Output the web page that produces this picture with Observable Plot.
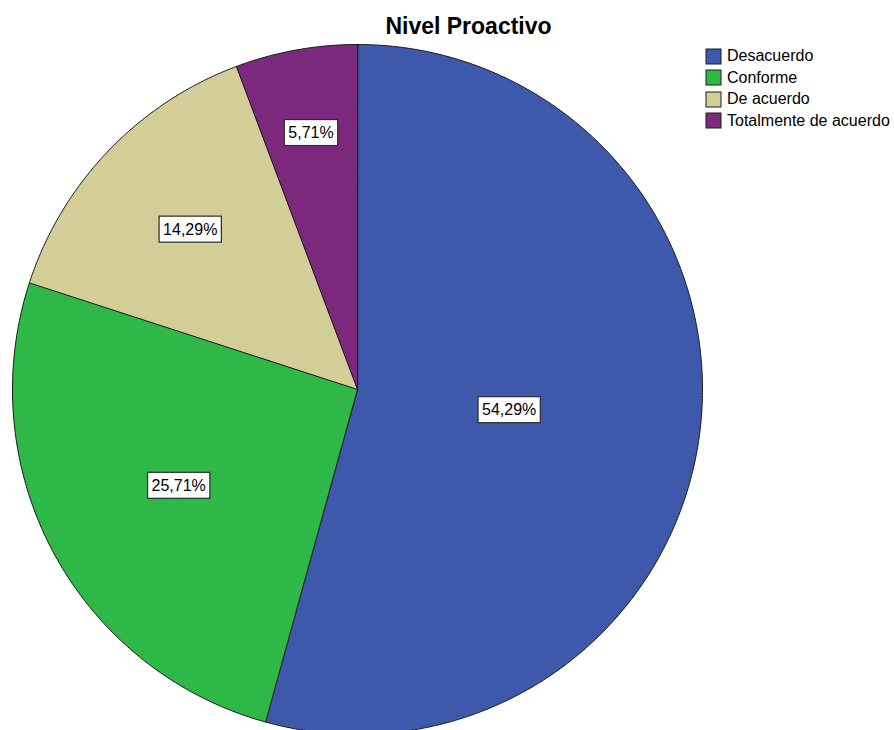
<!DOCTYPE html>
<html>
<head>
<meta charset="utf-8">
<script src="https://cdn.jsdelivr.net/npm/d3@7"></script>
<script src="https://cdn.jsdelivr.net/npm/@observablehq/plot@0.6"></script>
<style>
  html, body { margin: 0; padding: 0; background: #fff; overflow: hidden; }
  #chart { position: relative; width: 894px; height: 730px; font-family: "Liberation Sans", Arial, sans-serif; }
  #chart > svg { position: absolute; left: 0; top: 0; }
  #legend { position: absolute; left: 706px; top: 46px; width: 188px; }
  .pl-swatch > svg { margin-right: 6px !important; }
  .pl-swatch > svg rect { stroke: #1e1e1e; stroke-width: 1; }
</style>
</head>
<body>
<div id="chart"><div id="legend"></div></div>
<script>
// Chart text and values
const title = "Nivel Proactivo";
const categories = ["Desacuerdo", "Conforme", "De acuerdo", "Totalmente de acuerdo"];
const percents = [54.29, 25.71, 14.29, 5.71];
const valueLabels = ["54,29%", "25,71%", "14,29%", "5,71%"];
const colors = ["#3E58AC", "#2EB848", "#D3CE97", "#7C287D"];

// Page layout (pixels): pie centre and radius
const W = 894, H = 730;
const cx = 357, cy = 389, R = 345;

// Pie angles, clockwise from 12 o'clock, in category order
const arcs = d3.pie().sort(null).value(d => d)(percents);

// Outline points of each slice on a unit circle (y up)
const outline = [];
arcs.forEach((a, i) => {
  const key = categories[i];
  outline.push({key, x: 0, y: 0});
  const n = Math.max(2, Math.ceil((a.endAngle - a.startAngle) / (Math.PI / 360)));
  for (let k = 0; k <= n; ++k) {
    const t = a.startAngle + (a.endAngle - a.startAngle) * k / n;
    outline.push({key, x: Math.sin(t), y: Math.cos(t)});
  }
});

// Label anchors: halfway between the sector's area centroid and the
// centre of its largest inscribed circle, along the mid-angle
const labelRows = arcs.map((a, i) => {
  const theta = a.endAngle - a.startAngle;
  const half = theta / 2;
  const mid = a.startAngle + half;
  const dCentroid = 4 * Math.sin(half) / (3 * theta);
  const dInscribed = half < Math.PI / 2 ? 1 / (1 + Math.sin(half)) : 0.5;
  const d = (dCentroid + dInscribed) / 2;
  return {key: categories[i], label: valueLabels[i], x: d * Math.sin(mid), y: d * Math.cos(mid)};
});

const color = {domain: categories, range: colors};

const plot = Plot.plot({
  width: W,
  height: H,
  margin: 0,
  style: {fontFamily: "'Liberation Sans', Arial, sans-serif", background: "white", color: "black"},
  x: {domain: [-cx / R, (W - cx) / R], range: [0, W], axis: null},
  y: {domain: [-(H - cy) / R, cy / R], range: [H, 0], axis: null},
  color,
  marks: [
    Plot.line(outline, {
      x: "x", y: "y", z: "key", fill: "key",
      stroke: "#1a1a1a", strokeWidth: 1, curve: "linear-closed", strokeLinejoin: "round"
    }),
    Plot.text(labelRows, {
      x: "x", y: "y", text: "label",
      fontSize: 16, fill: "black", ariaDescription: "slice labels"
    }),
    Plot.text([title], {
      frameAnchor: "top", dx: 21, dy: 17, lineAnchor: "top",
      text: d => d, fontSize: 23, fontWeight: "bold", fill: "black"
    })
  ]
});

const chart = document.getElementById("chart");
chart.insertBefore(plot, chart.firstChild);

// White boxes with a dark border behind the percentage labels
const labelSet = new Set(valueLabels);
plot.querySelectorAll("text").forEach(t => {
  if (!labelSet.has(t.textContent)) return;
  const b = t.getBBox();
  const rect = document.createElementNS("http://www.w3.org/2000/svg", "rect");
  rect.setAttribute("x", b.x - 4);
  rect.setAttribute("y", b.y - 4.5);
  rect.setAttribute("width", b.width + 8);
  rect.setAttribute("height", b.height + 9);
  rect.setAttribute("fill", "white");
  rect.setAttribute("stroke", "#2a2a2a");
  rect.setAttribute("stroke-width", 1.2);
  const tr = t.getAttribute("transform");
  if (tr) rect.setAttribute("transform", tr);
  t.parentNode.insertBefore(rect, t);
});

// Category legend
const legend = Plot.legend({
  color: {...color, type: "ordinal"},
  legend: "swatches",
  columns: 1,
  swatchWidth: 15,
  swatchHeight: 15,
  className: "pl",
  style: {fontFamily: "'Liberation Sans', Arial, sans-serif", fontSize: "16px", lineHeight: "20.5px", color: "#000", margin: "0"}
});
document.getElementById("legend").appendChild(legend);
</script>
</body>
</html>
